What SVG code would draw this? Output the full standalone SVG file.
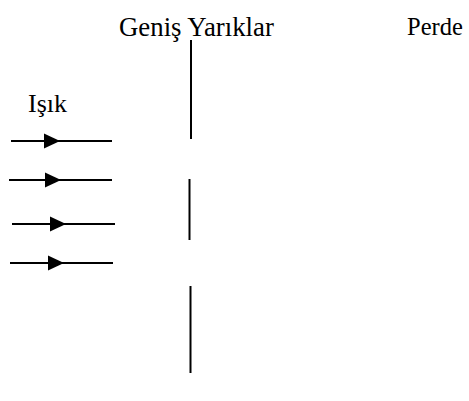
<svg xmlns="http://www.w3.org/2000/svg" width="469" height="401" viewBox="0 0 469 401">
  <style>
    .lbl { font-family: "Liberation Serif", "Times New Roman", serif; font-size: 26px; fill: #000; }
    .ray { stroke: #000; stroke-width: 2; fill: none; }
    .slit { stroke: #000; stroke-width: 2; fill: none; }
    .head { fill: #000; stroke: none; }
  </style>
  <rect width="469" height="401" fill="#fff"/>

  <g id="label-slits"><text class="lbl" x="119" y="36" style="font-size:26.8px">Geniş Yarıklar</text></g>
  <g id="label-screen"><text class="lbl" x="407" y="35" style="font-size:24.5px">Perde</text></g>
  <g id="label-light"><text class="lbl" x="28" y="112">Işık</text></g>

  <!-- barrier with two wide slits -->
  <g id="barrier">
    <line class="slit" x1="191" y1="40" x2="191" y2="139"/>
    <line class="slit" x1="189.5" y1="179" x2="189.5" y2="240"/>
    <line class="slit" x1="190.5" y1="286" x2="190.5" y2="373"/>
  </g>

  <!-- incoming light rays -->
  <g id="connectors">
    <line class="ray" x1="11" y1="141" x2="112" y2="141"/>
    <polygon class="head" points="44,133.5 60,141 44,148.5"/>
    <line class="ray" x1="9" y1="180" x2="112" y2="180"/>
    <polygon class="head" points="45,172.5 61,180 45,187.5"/>
    <line class="ray" x1="12" y1="224" x2="115" y2="224"/>
    <polygon class="head" points="50,216.5 66,224 50,231.5"/>
    <line class="ray" x1="10" y1="263" x2="113" y2="263"/>
    <polygon class="head" points="48,255.5 64,263 48,270.5"/>
  </g>
</svg>
